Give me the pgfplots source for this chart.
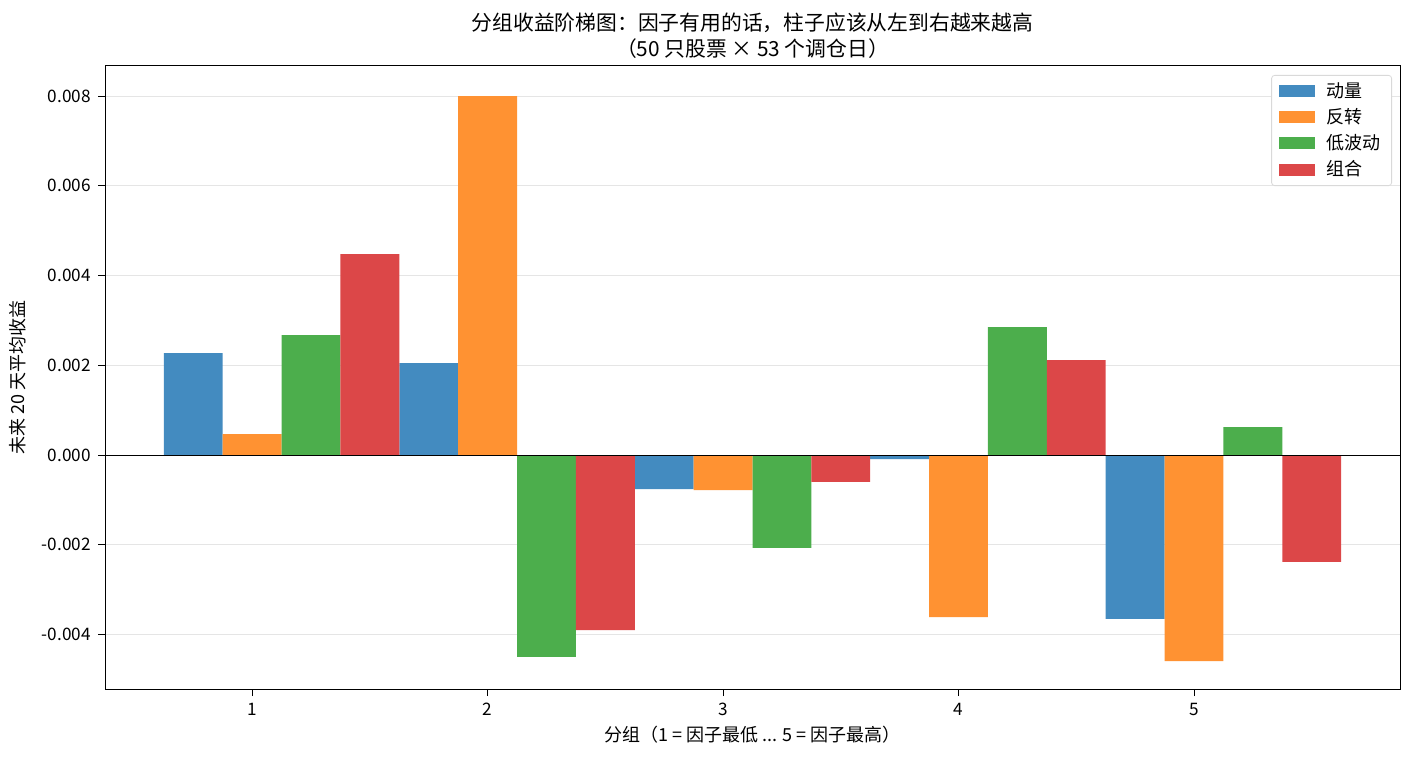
\documentclass[border=0pt]{standalone}
\usepackage{fontspec}
\setmainfont{Noto Sans CJK SC}
\usepackage{pgfplots}
\pgfplotsset{compat=1.18}
\definecolor{cA}{HTML}{438BC0}
\definecolor{cB}{HTML}{FF9232}
\definecolor{cC}{HTML}{4CAE4C}
\definecolor{cD}{HTML}{DC4748}
\begin{document}
\begin{tikzpicture}
\begin{axis}[
  name=ax,
  scale only axis,
  width=647.5pt, height=311.5pt,
  xmin=0.375, xmax=5.875,
  ymin=-0.005214, ymax=0.00867,
  xtick={1,2,3,4,5},
  ytick={-0.004,-0.002,0,0.002,0.004,0.006,0.008},
  scaled y ticks=false,
  yticklabel style={/pgf/number format/.cd, fixed, fixed zerofill, precision=3},
  /pgf/number format/assume math mode=true,
  ticklabel style={font=\fontsize{8.6}{10}\selectfont},
  xtick pos=bottom, ytick pos=left,
  tick align=outside,
  major tick length=3.5pt,
  tick style={black, line width=0.4pt},
  axis line style={black, line width=0.5pt},
  ymajorgrids,
  grid style={black!10, line width=0.4pt},
  ybar, bar shift=0pt, bar width=0.25,
  every axis plot/.append style={draw=none, fill opacity=1},
  title={分组收益阶梯图：因子有用的话，柱子应该从左到右越来越高\\（50 只股票 × 53 个调仓日）},
  title style={align=center, font=\fontsize{10.4}{13}\selectfont, at={(0.5,1)}, anchor=south, yshift=-5.8pt},
  xlabel={分组（1 = 因子最低 ... 5 = 因子最高）},
  ylabel={未来 20 天平均收益},
  label style={font=\fontsize{9}{10}\selectfont},
  xlabel style={at={(axis description cs:0.5,-0.0738)}, anchor=center},
  ylabel style={at={(axis description cs:-0.0672,0.5)}, anchor=center},
  legend style={at={(1,1)}, anchor=north east, xshift=-4pt, yshift=-4.5pt,
    draw=black!15, rounded corners=1.5pt, font=\fontsize{9}{10}\selectfont,
    inner xsep=3.5pt, inner ysep=1.5pt, row sep=0pt, cells={anchor=west}},
  legend image code/.code={\fill[#1, sharp corners] (0pt,-3pt) rectangle (18pt,3pt); \path (22pt,0);},
  legend cell align=left,
]
\addplot[fill=cA] coordinates {(0.75,0.002273) (1.75,0.00205) (2.75,-0.000758) (3.75,-0.00009) (4.75,-0.00365)};
\addplot[fill=cB] coordinates {(1.00,0.000468) (2.00,0.00800) (3.00,-0.00078) (4.00,-0.00361) (5.00,-0.00459)};
\addplot[fill=cC] coordinates {(1.25,0.002674) (2.25,-0.00450) (3.25,-0.00207) (4.25,0.002852) (5.25,0.000624)};
\addplot[fill=cD] coordinates {(1.50,0.00448) (2.50,-0.00390) (3.50,-0.00060) (4.50,0.002117) (5.50,-0.00238)};
\legend{动量,反转,低波动,组合}
\draw[black, line width=0.5pt] (axis cs:0.375,0) -- (axis cs:5.875,0);
\end{axis}
\pgfresetboundingbox
\path ([shift={(-52.5pt,-35pt)}]ax.south west) rectangle ([shift={(7pt,33pt)}]ax.north east);
\end{tikzpicture}
\end{document}
